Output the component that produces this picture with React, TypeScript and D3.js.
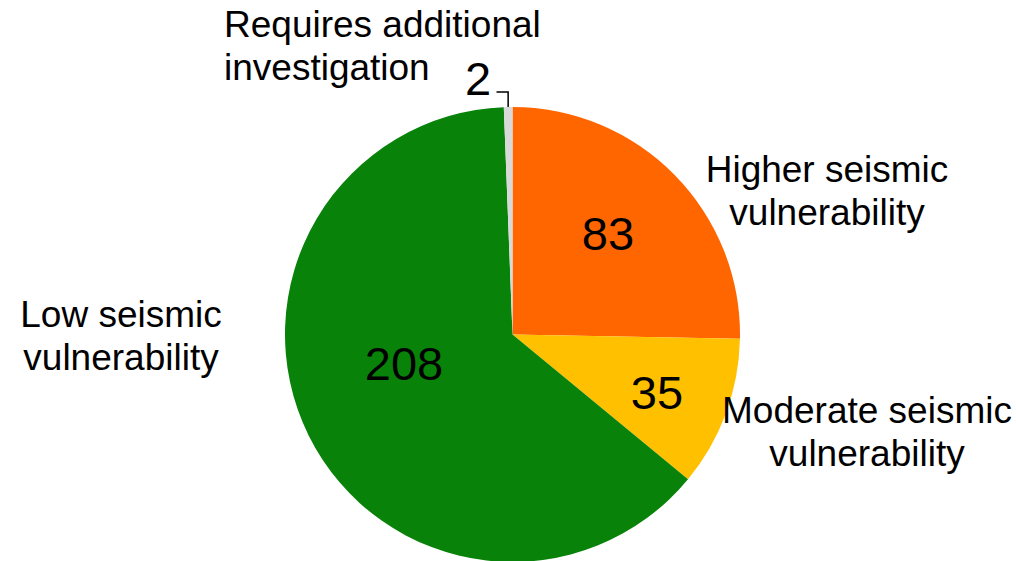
import * as d3 from "d3"

const categories = [
  "Higher seismic vulnerability",
  "Moderate seismic vulnerability",
  "Low seismic vulnerability",
  "Requires additional investigation",
]
const counts = [83, 35, 208, 2]
const colors = ["#FF6600", "#FFC000", "#088208", "#D9D9D9"]

// category label lines
const labelLines = [
  ["Higher seismic", "vulnerability"],
  ["Moderate seismic", "vulnerability"],
  ["Low seismic", "vulnerability"],
  ["Requires additional", "investigation"],
]

const width = 1016
const height = 561
const cx = 512.5
const cy = 334.5
const radius = 227.5
const font = "Liberation Sans, Arial, sans-serif"

// where Excel put the value labels (baseline, centred)
const valuePos = [
  { x: 608, y: 250 },
  { x: 657, y: 409 },
  { x: 404, y: 380 },
  { x: 478, y: 95 },
]
// category labels: anchor x, first baseline, alignment
const catPos: { x: number; y: number; anchor: "start" | "middle" | "end" }[] = [
  { x: 827, y: 182, anchor: "middle" },
  { x: 867, y: 423, anchor: "middle" },
  { x: 121, y: 327, anchor: "middle" },
  { x: 224, y: 37, anchor: "start" },
]
const lineHeight = 43

export default function App() {
  const data = categories.map((c, i) => ({ name: c, value: counts[i] }))
  const pie = d3
    .pie<{ name: string; value: number }>()
    .sort(null)
    .value((d) => d.value)
    .startAngle(0)
    .endAngle(2 * Math.PI)
  const arcs = pie(data)
  const arc = d3
    .arc<d3.PieArcDatum<{ name: string; value: number }>>()
    .innerRadius(0)
    .outerRadius(radius)

  // leader line for the tiny slice
  const small = arcs[3]
  const mid = (small.startAngle + small.endAngle) / 2
  const ax = Math.sin(mid) * radius
  const ay = -Math.cos(mid) * radius
  const leader = d3.path()
  leader.moveTo(cx - 16, cy + ay - 15)
  leader.lineTo(cx + ax, cy + ay - 15)
  leader.lineTo(cx + ax, cy + ay)

  return (
    <svg
      width={width}
      height={height}
      style={{ position: "absolute", left: 0, top: 0, background: "#fff" }}
    >
      <g transform={`translate(${cx},${cy})`}>
        {arcs.map((a, i) => (
          <path key={i} d={arc(a) ?? ""} fill={colors[i]} />
        ))}
      </g>
      <path d={leader.toString()} fill="none" stroke="#000" strokeWidth={1.5} />
      {arcs.map((a, i) => (
        <text
          key={"v" + i}
          x={valuePos[i].x}
          y={valuePos[i].y}
          textAnchor="middle"
          fontFamily={font}
          fontSize={47}
          fill="#000"
        >
          {a.data.value}
        </text>
      ))}
      {labelLines.map((lines, i) => (
        <text
          key={"c" + i}
          x={catPos[i].x}
          y={catPos[i].y}
          textAnchor={catPos[i].anchor}
          fontFamily={font}
          fontSize={37}
          fill="#000"
        >
          {lines.map((l, j) => (
            <tspan key={j} x={catPos[i].x} dy={j === 0 ? 0 : lineHeight}>
              {l}
            </tspan>
          ))}
        </text>
      ))}
    </svg>
  )
}
